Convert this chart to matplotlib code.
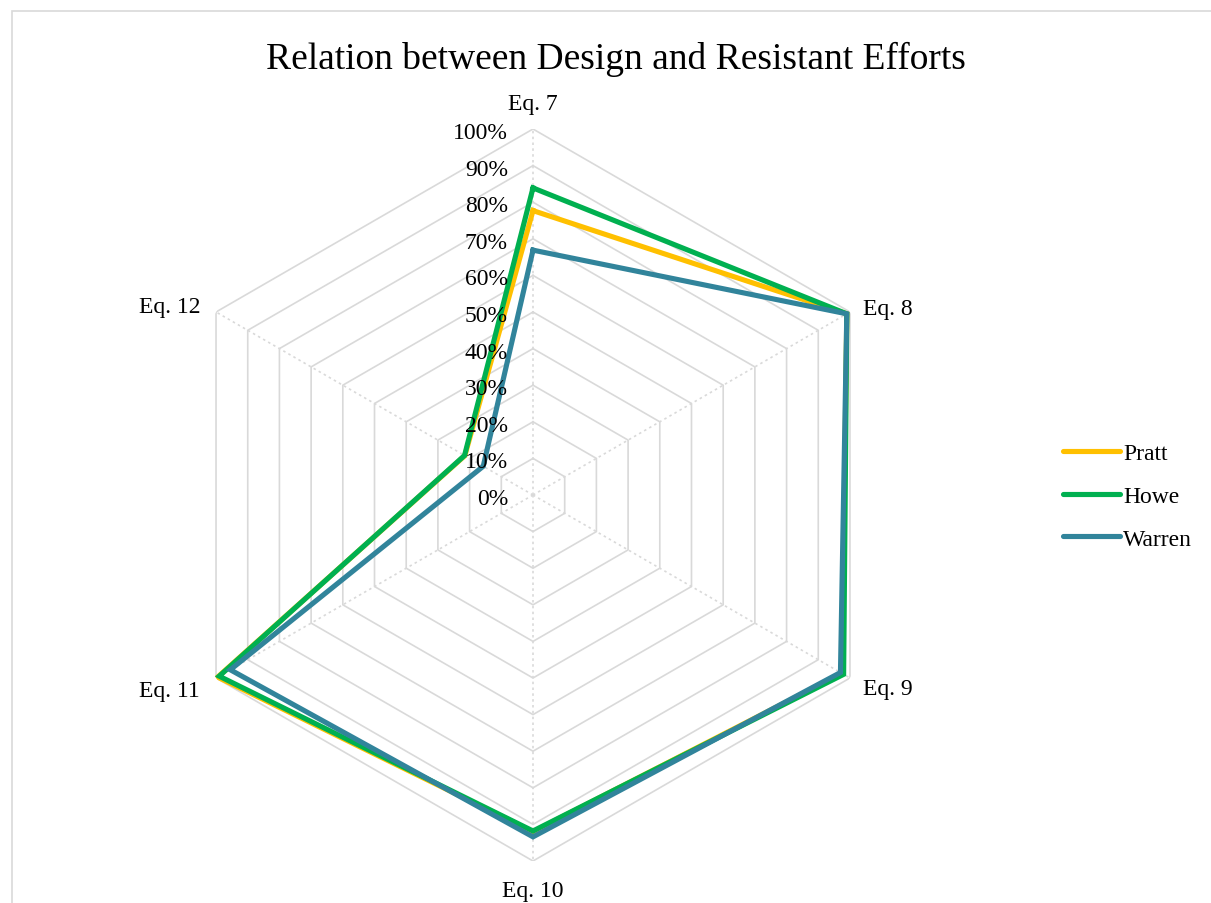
import numpy as np
import matplotlib
matplotlib.use("Agg")
import matplotlib.pyplot as plt
from matplotlib.patches import Rectangle

plt.rcParams['font.family'] = ['Liberation Serif', 'DejaVu Serif']

categories = ["Eq. 7", "Eq. 8", "Eq. 9", "Eq. 10", "Eq. 11", "Eq. 12"]
pratt = [0.777, 0.99, 0.975, 0.92, 0.995, 0.215]
howe = [0.839, 0.99, 0.98, 0.918, 0.99, 0.216]
warren = [0.669, 0.99, 0.97, 0.934, 0.955, 0.157]
tick_values = [0.0, 0.1, 0.2, 0.3, 0.4, 0.5, 0.6, 0.7, 0.8, 0.9, 1.0]
tick_labels = ["0%", "10%", "20%", "30%", "40%", "50%", "60%", "70%", "80%", "90%", "100%"]
series = [("Pratt", pratt, "#FFC000"), ("Howe", howe, "#00B050"), ("Warren", warren, "#31849B")]

W, H = 1211, 904
fig = plt.figure(figsize=(W / 100, H / 100), dpi=100)

# outer chart frame (cropped at right/bottom)
fig.add_artist(Rectangle((12 / W, -0.05), 1.2, 1 - 12 / H + 0.05, transform=fig.transFigure,
                         fill=False, edgecolor="#d9d9d9", linewidth=1.2))

cx, cy, R = 533, H - 496, 366
ax = fig.add_axes([(cx - R) / W, (cy - R) / H, 2 * R / W, 2 * R / H], projection="polar")
ax.set_theta_offset(np.pi / 2)
ax.set_theta_direction(-1)
ax.set_ylim(0, 1)
ax.grid(False)
ax.spines["polar"].set_visible(False)
ax.set_xticks([])
ax.set_yticks([])
ax.patch.set_alpha(0)

n = len(categories)
angles = np.linspace(0, 2 * np.pi, n, endpoint=False)
closed = np.concatenate([angles, angles[:1]])

# hexagonal rings
for r in tick_values[1:]:
    ax.plot(closed, [r] * (n + 1), color="#d9d9d9", lw=1.2, zorder=1)
# dotted spokes
for a in angles:
    ax.plot([a, a], [0, 1], color="#d9d9d9", lw=1.2, ls=(0, (1.5, 2)), zorder=1)

# data
for name, vals, col in series:
    v = list(vals) + [vals[0]]
    ax.plot(closed, v, color=col, lw=3.7, label=name, zorder=3, solid_joinstyle="miter")

FS = 17
DY = -2.5  # small downward shift (points)
# radial tick labels
for r, lab in zip(tick_values, tick_labels):
    ax.annotate(lab, xy=(0, r), xytext=(-18, DY), textcoords="offset points",
                ha="right", va="center", fontsize=FS, zorder=4)

# category labels
for a, lab in zip(angles, categories):
    deg = np.degrees(a)
    if np.isclose(deg, 0):
        r, ha = 1.08, "center"
    elif np.isclose(deg, 180):
        r, ha = 1.07, "center"
    elif deg < 180:
        r, ha = 1.04, "left"
    else:
        r, ha = 1.05, "right"
    ax.annotate(lab, xy=(a, r), xytext=(0, DY), textcoords="offset points",
                ha=ha, va="center", fontsize=FS, annotation_clip=False)

fig.text(616 / W, 1 - 59 / H, "Relation between Design and Resistant Efforts",
         ha="center", va="center", fontsize=27)

leg = fig.legend(loc="center left", bbox_to_anchor=(1063 / W, 1 - 497 / H), frameon=False,
                 fontsize=FS, handlelength=2.4, handletextpad=0.15, labelspacing=0.9,
                 borderaxespad=0, borderpad=0)
for line in leg.get_lines():
    line.set_linewidth(3.7)
    line.set_solid_capstyle("round")

fig.savefig("out.png", dpi=100)
